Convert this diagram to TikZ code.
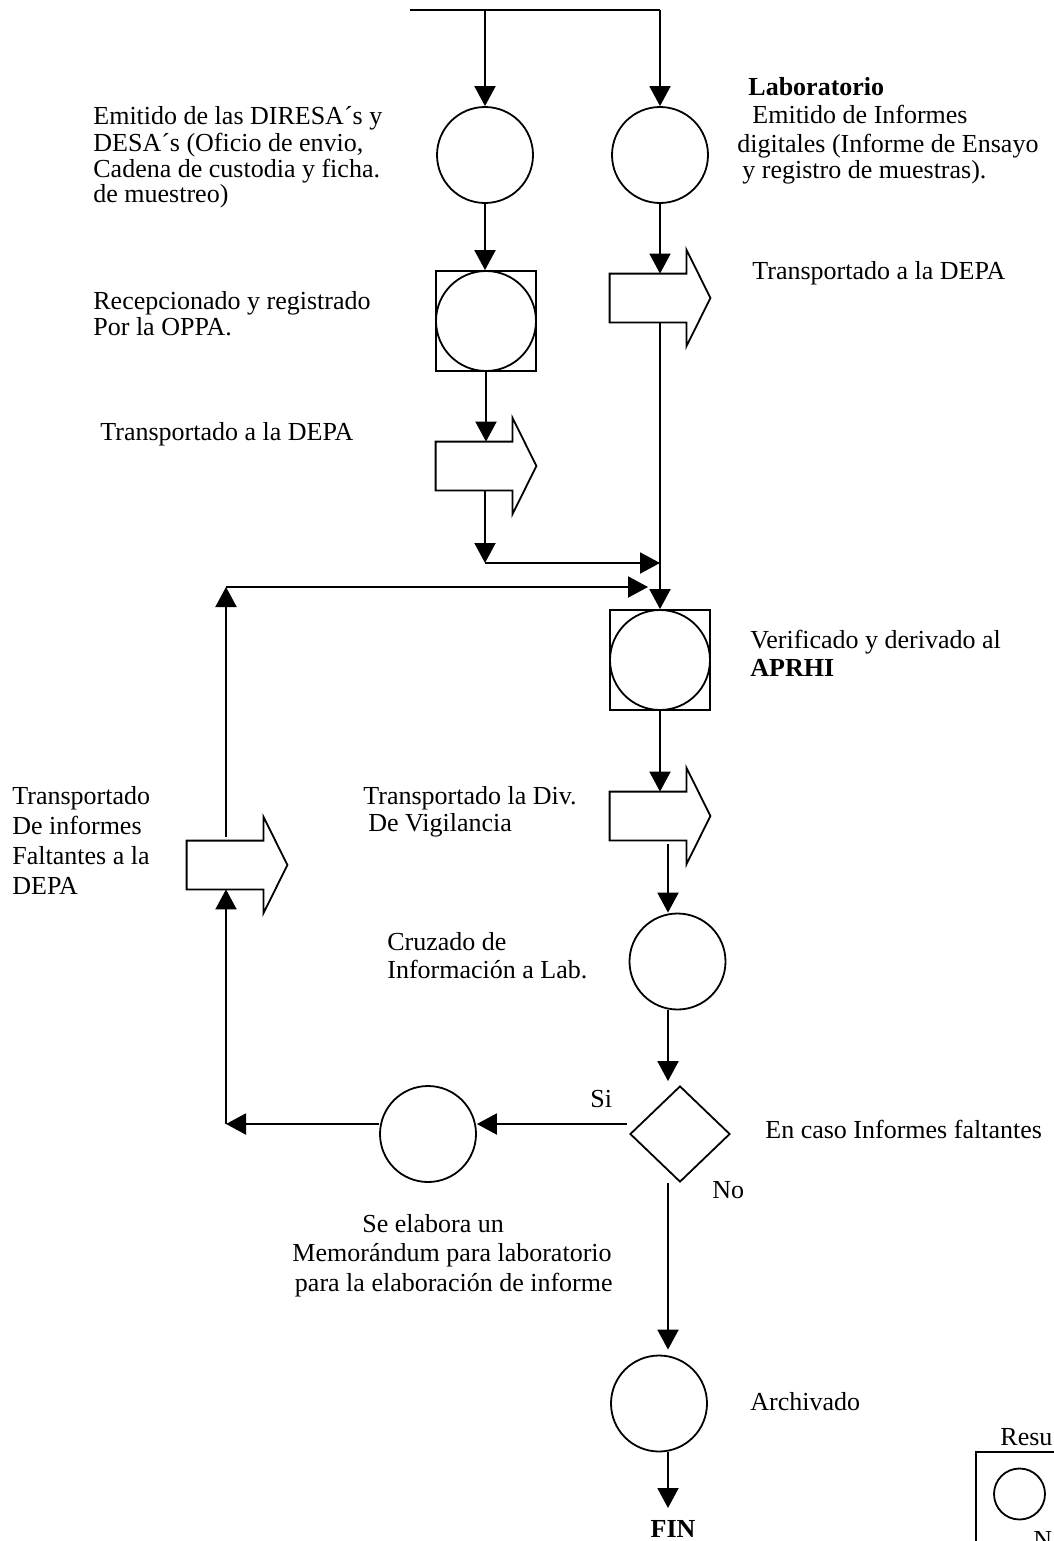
\documentclass[tikz,border=0pt]{standalone}
\usepackage{fontspec}
\setmainfont{Liberation Serif}
\usetikzlibrary{arrows.meta,shapes.geometric,calc}
\newcommand\blkarrow[1]{\draw[blk] (#1.north west) -- (#1.north east) -- ++(0,-24) -- ($(#1.east)+(24,0)$) -- ($(#1.south east)+(0,24)$) -- (#1.south east) -- (#1.south west) -- cycle;}
\begin{document}
\begin{tikzpicture}[x=0.5pt,y=-0.5pt,
  arr/.style={-{Triangle[length=10pt,width=10.5pt]}, line width=1pt},
  ln/.style={line width=1pt},
  circ/.style={circle, draw, line width=0.9pt, minimum size=48pt, inner sep=0},
  sqr/.style={rectangle, draw, line width=0.9pt, minimum size=50pt, inner sep=0},
  shaft/.style={rectangle, minimum width=38pt, minimum height=24pt, inner sep=0},
  blk/.style={line width=0.9pt, line join=miter},
  dia/.style={diamond, draw, line width=0.9pt, minimum width=50pt, minimum height=48pt, inner sep=0},
  lbl/.style={anchor=base west, inner sep=0, font=\fontsize{13}{14}\selectfont},
  blbl/.style={lbl, font=\bfseries\fontsize{13}{14}\selectfont},
]
\useasboundingbox (0,0) rectangle (1054,1541);
\clip (0,0) rectangle (1054,1541);

% ---- shapes
\coordinate (top0) at (410,10);
\coordinate (top1) at (485,10);
\coordinate (top2) at (660,10);
\node[circ] (c1) at (485,155) {};
\node[circ] (c2) at (660,155) {};
\node[sqr] (sq1) at (486,321) {};
\node[circ, minimum size=50pt] (sq1c) at (486,321) {};
\node[shaft] (ba1) at (474,466) {};
\blkarrow{ba1}
\node[shaft] (ba2) at (648,298) {};
\blkarrow{ba2}
\node[sqr] (sq2) at (660,660) {};
\node[circ, minimum size=50pt] (sq2c) at (660,660) {};
\node[shaft] (ba4) at (648,816) {};
\blkarrow{ba4}
\node[circ] (c3) at (677.5,961.5) {};
\node[dia] (d1) at (680,1134) {};
\node[circ] (c4) at (428,1134) {};
\node[circ] (c5) at (659,1403.5) {};
\node[shaft] (ba3) at (225,865) {};
\blkarrow{ba3}
\node[blbl, anchor=base] (fin) at (673,1537) {FIN};

\coordinate (j1) at (485,563);
\coordinate (j2) at (660,563);
\coordinate (lp1) at (226,587);
\coordinate (lp2) at (648,587);
\coordinate (lp3) at (226,1124);
\coordinate (si0) at (627,1124);
\coordinate (col) at (668,0);

% ---- connectors
\draw[ln] (top0) -- (top2);
\draw[arr] (top1) -- (c1.north);
\draw[arr] (top2) -- (c2.north);
\draw[arr] (c1.south) -- (c1.south |- sq1.north);
\draw[arr] (sq1.south) -- (sq1.south |- ba1.north);
\draw[arr] (j1 |- ba1.south) -- (j1);
\draw[arr] (j1) -- (j2);
\draw[arr] (c2.south) -- (c2.south |- ba2.north);
\draw[arr] (c2.south |- ba2.south) -- (sq2.north);
\draw[arr] ($(lp1 |- ba3.north)+(0,-4)$) -- (lp1);
\draw[arr] (lp1) -- (lp2);
\draw[arr] (sq2.south) -- (sq2.south |- ba4.north);
\draw[arr] ($(col |- ba4.south)+(0,4)$) -- (col |- c3.north);
\draw[arr] (col |- c3.south) -- ($(col |- d1.north)+(0,-4)$);
\draw[arr] (col |- d1.south) -- ($(col |- c5.north)+(0,-5)$);
\draw[arr] (col |- c5.south) -- (col |- 0,1508);
\draw[arr] (si0) -- (si0 -| c4.east);
\draw[arr] (si0 -| c4.west) -- (lp3);
\draw[arr] (lp3) -- (lp3 |- ba3.south);

% ---- legend (cut off)
\draw[ln] (1060,1452) -- (976,1452) -- (976,1545);
\node[circ, minimum size=25.5pt] (lg) at (1019.5,1494) {};
\node[lbl] (lgt) at (1000,1445) {Resu};
\node[lbl] (lgn) at (1033,1548) {N};

% ---- labels
\node[lbl] (ta1) at (93,125) {Emitido de las DIRESA´s y};
\node[lbl] (ta2) at (93,151) {DESA´s (Oficio de envio,};
\node[lbl] (ta3) at (93,177) {Cadena de custodia y ficha.};
\node[lbl] (ta4) at (93,202) {de muestreo)};

\node[blbl] (tb1) at (748,96) {Laboratorio};
\node[lbl] (tb2) at (752,124) {Emitido de Informes};
\node[lbl] (tb3) at (737,152) {digitales (Informe de Ensayo};
\node[lbl] (tb4) at (742,178) {y registro de muestras).};

\node[lbl] (tc1) at (752,279) {Transportado a la DEPA};
\node[lbl] (td1) at (93,309) {Recepcionado y registrado};
\node[lbl] (td2) at (93,335) {Por la OPPA.};
\node[lbl] (te1) at (100,440) {Transportado a la DEPA};

\node[lbl] (tf1) at (750,648) {Verificado y derivado al};
\node[blbl] (tf2) at (750,676) {APRHI};

\node[lbl] (tg1) at (363,804) {Transportado la Div.};
\node[lbl] (tg2) at (368,831) {De Vigilancia};

\node[lbl] (th1) at (12,804) {Transportado};
\node[lbl] (th2) at (12,834) {De informes};
\node[lbl] (th3) at (12,864) {Faltantes a la};
\node[lbl] (th4) at (12,894) {DEPA};

\node[lbl] (ti1) at (387,950) {Cruzado de};
\node[lbl] (ti2) at (387,978) {Información a Lab.};

\node[lbl] (tsi) at (590,1107) {Si};
\node[lbl] (tj1) at (765,1138) {En caso Informes faltantes};
\node[lbl] (tno) at (712,1198) {No};

\node[lbl] (tk1) at (362,1232) {Se elabora un};
\node[lbl, anchor=base east] (tk2) at (612,1261) {Memorándum para laboratorio};
\node[lbl, anchor=base east] (tk3) at (613,1291) {para la elaboración de informe};

\node[lbl] (tl1) at (750,1410) {Archivado};
\end{tikzpicture}
\end{document}
